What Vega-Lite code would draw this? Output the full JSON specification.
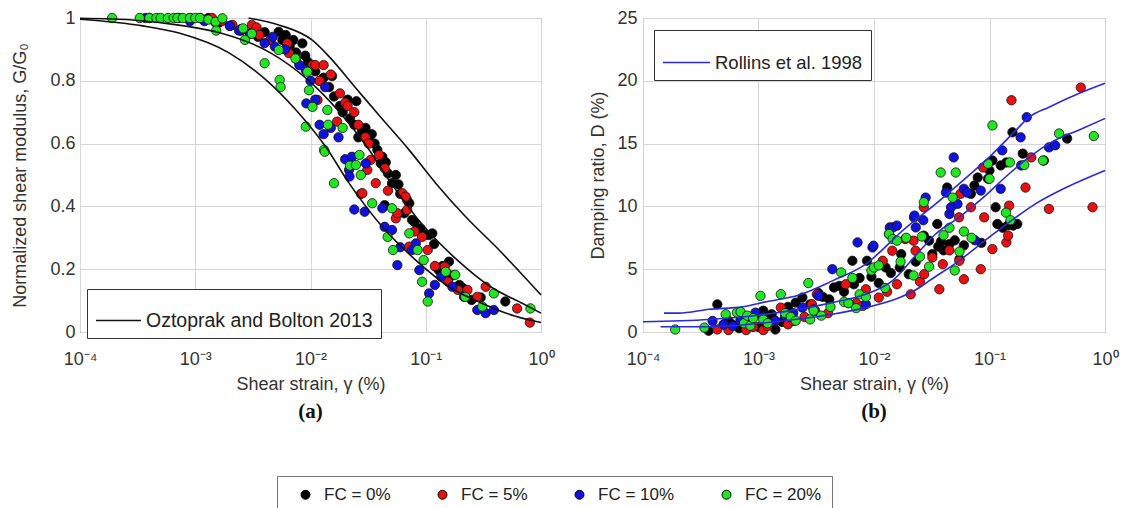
{
  "$schema": "https://vega.github.io/schema/vega-lite/v6.json",
  "background": "white",
  "padding": {"left": 11, "top": 8, "right": 5, "bottom": 0},
  "config": {
    "font": "Liberation Sans",
    "view": {"stroke": "#555", "strokeWidth": 1},
    "axis": {"domain": false, "ticks": false, "labelFont": "Liberation Sans", "labelFontSize": 18, "labelColor": "#333", "titleFont": "Liberation Sans", "titleFontSize": 18, "titleFontWeight": "normal", "titleColor": "#333", "gridWidth": 1, "labelBound": false, "labelFlush": false},
    "legend": {"labelFont": "Liberation Sans", "labelFontSize": 17, "labelColor": "#222", "labelLimit": 500}
  },
  "datasets": {
    "gpts": [
      {"strain":0.0011,"G":1.0,"FC":"0%"},{"strain":0.0012,"G":0.995,"FC":"0%"},{"strain":0.0013,"G":1.0,"FC":"0%"},{"strain":0.0016,"G":0.985,"FC":"0%"},{"strain":0.002,"G":0.975,"FC":"0%"},{"strain":0.0025,"G":0.96,"FC":"0%"},{"strain":0.003,"G":0.95,"FC":"0%"},{"strain":0.0035,"G":0.94,"FC":"0%"},{"strain":0.004,"G":0.955,"FC":"0%"},{"strain":0.0045,"G":0.93,"FC":"0%"},{"strain":0.0053,"G":0.956,"FC":"0%"},{"strain":0.0057,"G":0.93,"FC":"0%"},{"strain":0.0061,"G":0.946,"FC":"0%"},{"strain":0.0066,"G":0.91,"FC":"0%"},{"strain":0.0071,"G":0.93,"FC":"0%"},{"strain":0.0075,"G":0.89,"FC":"0%"},{"strain":0.0085,"G":0.919,"FC":"0%"},{"strain":0.009,"G":0.88,"FC":"0%"},{"strain":0.0095,"G":0.86,"FC":"0%"},{"strain":0.011,"G":0.83,"FC":"0%"},{"strain":0.012,"G":0.8,"FC":"0%"},{"strain":0.013,"G":0.81,"FC":"0%"},{"strain":0.0145,"G":0.78,"FC":"0%"},{"strain":0.0154,"G":0.815,"FC":"0%"},{"strain":0.016,"G":0.75,"FC":"0%"},{"strain":0.018,"G":0.72,"FC":"0%"},{"strain":0.019,"G":0.7,"FC":"0%"},{"strain":0.021,"G":0.74,"FC":"0%"},{"strain":0.022,"G":0.68,"FC":"0%"},{"strain":0.024,"G":0.66,"FC":"0%"},{"strain":0.025,"G":0.735,"FC":"0%"},{"strain":0.026,"G":0.62,"FC":"0%"},{"strain":0.028,"G":0.64,"FC":"0%"},{"strain":0.03,"G":0.65,"FC":"0%"},{"strain":0.032,"G":0.61,"FC":"0%"},{"strain":0.034,"G":0.63,"FC":"0%"},{"strain":0.036,"G":0.6,"FC":"0%"},{"strain":0.038,"G":0.58,"FC":"0%"},{"strain":0.0407,"G":0.537,"FC":"0%"},{"strain":0.042,"G":0.558,"FC":"0%"},{"strain":0.044,"G":0.404,"FC":"0%"},{"strain":0.045,"G":0.54,"FC":"0%"},{"strain":0.047,"G":0.505,"FC":"0%"},{"strain":0.051,"G":0.474,"FC":"0%"},{"strain":0.055,"G":0.5,"FC":"0%"},{"strain":0.058,"G":0.47,"FC":"0%"},{"strain":0.06,"G":0.44,"FC":"0%"},{"strain":0.065,"G":0.378,"FC":"0%"},{"strain":0.069,"G":0.42,"FC":"0%"},{"strain":0.072,"G":0.41,"FC":"0%"},{"strain":0.076,"G":0.357,"FC":"0%"},{"strain":0.08,"G":0.35,"FC":"0%"},{"strain":0.086,"G":0.325,"FC":"0%"},{"strain":0.09,"G":0.33,"FC":"0%"},{"strain":0.1,"G":0.31,"FC":"0%"},{"strain":0.107,"G":0.309,"FC":"0%"},{"strain":0.114,"G":0.314,"FC":"0%"},{"strain":0.118,"G":0.28,"FC":"0%"},{"strain":0.122,"G":0.208,"FC":"0%"},{"strain":0.13,"G":0.197,"FC":"0%"},{"strain":0.14,"G":0.21,"FC":"0%"},{"strain":0.15,"G":0.19,"FC":"0%"},{"strain":0.159,"G":0.224,"FC":"0%"},{"strain":0.17,"G":0.18,"FC":"0%"},{"strain":0.196,"G":0.15,"FC":"0%"},{"strain":0.21,"G":0.14,"FC":"0%"},{"strain":0.25,"G":0.102,"FC":"0%"},{"strain":0.3,"G":0.11,"FC":"0%"},{"strain":0.49,"G":0.097,"FC":"0%"},
      {"strain":0.0009,"G":1.0,"FC":"5%"},{"strain":0.0014,"G":1.0,"FC":"5%"},{"strain":0.0017,"G":0.99,"FC":"5%"},{"strain":0.0021,"G":0.978,"FC":"5%"},{"strain":0.0025,"G":0.965,"FC":"5%"},{"strain":0.0031,"G":0.978,"FC":"5%"},{"strain":0.0034,"G":0.97,"FC":"5%"},{"strain":0.0036,"G":0.946,"FC":"5%"},{"strain":0.0045,"G":0.93,"FC":"5%"},{"strain":0.0063,"G":0.919,"FC":"5%"},{"strain":0.0065,"G":0.888,"FC":"5%"},{"strain":0.0075,"G":0.87,"FC":"5%"},{"strain":0.0104,"G":0.85,"FC":"5%"},{"strain":0.011,"G":0.85,"FC":"5%"},{"strain":0.0115,"G":0.739,"FC":"5%"},{"strain":0.012,"G":0.8,"FC":"5%"},{"strain":0.013,"G":0.85,"FC":"5%"},{"strain":0.015,"G":0.82,"FC":"5%"},{"strain":0.017,"G":0.67,"FC":"5%"},{"strain":0.018,"G":0.76,"FC":"5%"},{"strain":0.02,"G":0.73,"FC":"5%"},{"strain":0.021,"G":0.72,"FC":"5%"},{"strain":0.024,"G":0.7,"FC":"5%"},{"strain":0.026,"G":0.66,"FC":"5%"},{"strain":0.0274,"G":0.44,"FC":"5%"},{"strain":0.0282,"G":0.442,"FC":"5%"},{"strain":0.03,"G":0.62,"FC":"5%"},{"strain":0.0311,"G":0.516,"FC":"5%"},{"strain":0.032,"G":0.6,"FC":"5%"},{"strain":0.0333,"G":0.548,"FC":"5%"},{"strain":0.0368,"G":0.474,"FC":"5%"},{"strain":0.0394,"G":0.564,"FC":"5%"},{"strain":0.044,"G":0.521,"FC":"5%"},{"strain":0.047,"G":0.45,"FC":"5%"},{"strain":0.055,"G":0.362,"FC":"5%"},{"strain":0.0567,"G":0.378,"FC":"5%"},{"strain":0.0627,"G":0.442,"FC":"5%"},{"strain":0.0669,"G":0.431,"FC":"5%"},{"strain":0.069,"G":0.389,"FC":"5%"},{"strain":0.072,"G":0.272,"FC":"5%"},{"strain":0.08,"G":0.32,"FC":"5%"},{"strain":0.093,"G":0.303,"FC":"5%"},{"strain":0.104,"G":0.261,"FC":"5%"},{"strain":0.12,"G":0.21,"FC":"5%"},{"strain":0.146,"G":0.208,"FC":"5%"},{"strain":0.156,"G":0.16,"FC":"5%"},{"strain":0.19,"G":0.134,"FC":"5%"},{"strain":0.23,"G":0.134,"FC":"5%"},{"strain":0.28,"G":0.112,"FC":"5%"},{"strain":0.331,"G":0.144,"FC":"5%"},{"strain":0.62,"G":0.075,"FC":"5%"},{"strain":0.8,"G":0.03,"FC":"5%"},
      {"strain":0.00037,"G":1.0,"FC":"10%"},{"strain":0.0004,"G":1.0,"FC":"10%"},{"strain":0.00072,"G":1.0,"FC":"10%"},{"strain":0.0009,"G":0.99,"FC":"10%"},{"strain":0.0012,"G":0.99,"FC":"10%"},{"strain":0.0015,"G":0.985,"FC":"10%"},{"strain":0.002,"G":0.975,"FC":"10%"},{"strain":0.0024,"G":0.96,"FC":"10%"},{"strain":0.003,"G":0.95,"FC":"10%"},{"strain":0.004,"G":0.92,"FC":"10%"},{"strain":0.0047,"G":0.94,"FC":"10%"},{"strain":0.0049,"G":0.909,"FC":"10%"},{"strain":0.006,"G":0.9,"FC":"10%"},{"strain":0.008,"G":0.85,"FC":"10%"},{"strain":0.0091,"G":0.834,"FC":"10%"},{"strain":0.0092,"G":0.728,"FC":"10%"},{"strain":0.01,"G":0.8,"FC":"10%"},{"strain":0.011,"G":0.74,"FC":"10%"},{"strain":0.012,"G":0.66,"FC":"10%"},{"strain":0.013,"G":0.63,"FC":"10%"},{"strain":0.0134,"G":0.78,"FC":"10%"},{"strain":0.015,"G":0.65,"FC":"10%"},{"strain":0.0175,"G":0.62,"FC":"10%"},{"strain":0.02,"G":0.55,"FC":"10%"},{"strain":0.0216,"G":0.516,"FC":"10%"},{"strain":0.0218,"G":0.495,"FC":"10%"},{"strain":0.0229,"G":0.558,"FC":"10%"},{"strain":0.024,"G":0.39,"FC":"10%"},{"strain":0.0295,"G":0.383,"FC":"10%"},{"strain":0.0302,"G":0.537,"FC":"10%"},{"strain":0.042,"G":0.394,"FC":"10%"},{"strain":0.044,"G":0.335,"FC":"10%"},{"strain":0.051,"G":0.325,"FC":"10%"},{"strain":0.0567,"G":0.213,"FC":"10%"},{"strain":0.06,"G":0.27,"FC":"10%"},{"strain":0.076,"G":0.261,"FC":"10%"},{"strain":0.082,"G":0.282,"FC":"10%"},{"strain":0.088,"G":0.197,"FC":"10%"},{"strain":0.107,"G":0.123,"FC":"10%"},{"strain":0.12,"G":0.15,"FC":"10%"},{"strain":0.136,"G":0.176,"FC":"10%"},{"strain":0.17,"G":0.144,"FC":"10%"},{"strain":0.215,"G":0.112,"FC":"10%"},{"strain":0.28,"G":0.07,"FC":"10%"},{"strain":0.331,"G":0.06,"FC":"10%"},{"strain":0.39,"G":0.07,"FC":"10%"},
      {"strain":0.00019,"G":1.0,"FC":"20%"},{"strain":0.00033,"G":1.0,"FC":"20%"},{"strain":0.0004,"G":1.0,"FC":"20%"},{"strain":0.00046,"G":1.0,"FC":"20%"},{"strain":0.0005,"G":1.0,"FC":"20%"},{"strain":0.00058,"G":1.0,"FC":"20%"},{"strain":0.00065,"G":1.0,"FC":"20%"},{"strain":0.0007,"G":1.0,"FC":"20%"},{"strain":0.00078,"G":1.0,"FC":"20%"},{"strain":0.0009,"G":1.0,"FC":"20%"},{"strain":0.001,"G":1.0,"FC":"20%"},{"strain":0.0011,"G":1.0,"FC":"20%"},{"strain":0.0013,"G":0.995,"FC":"20%"},{"strain":0.0015,"G":0.988,"FC":"20%"},{"strain":0.00152,"G":0.96,"FC":"20%"},{"strain":0.00172,"G":0.999,"FC":"20%"},{"strain":0.0026,"G":0.967,"FC":"20%"},{"strain":0.0027,"G":0.93,"FC":"20%"},{"strain":0.0031,"G":0.95,"FC":"20%"},{"strain":0.004,"G":0.856,"FC":"20%"},{"strain":0.0053,"G":0.898,"FC":"20%"},{"strain":0.0054,"G":0.803,"FC":"20%"},{"strain":0.0055,"G":0.78,"FC":"20%"},{"strain":0.0074,"G":0.871,"FC":"20%"},{"strain":0.0091,"G":0.654,"FC":"20%"},{"strain":0.0094,"G":0.829,"FC":"20%"},{"strain":0.0097,"G":0.77,"FC":"20%"},{"strain":0.0104,"G":0.717,"FC":"20%"},{"strain":0.0131,"G":0.58,"FC":"20%"},{"strain":0.0133,"G":0.574,"FC":"20%"},{"strain":0.014,"G":0.707,"FC":"20%"},{"strain":0.0142,"G":0.66,"FC":"20%"},{"strain":0.016,"G":0.474,"FC":"20%"},{"strain":0.019,"G":0.65,"FC":"20%"},{"strain":0.022,"G":0.53,"FC":"20%"},{"strain":0.0248,"G":0.532,"FC":"20%"},{"strain":0.0266,"G":0.564,"FC":"20%"},{"strain":0.0273,"G":0.5,"FC":"20%"},{"strain":0.0343,"G":0.41,"FC":"20%"},{"strain":0.0467,"G":0.303,"FC":"20%"},{"strain":0.051,"G":0.394,"FC":"20%"},{"strain":0.052,"G":0.261,"FC":"20%"},{"strain":0.072,"G":0.314,"FC":"20%"},{"strain":0.085,"G":0.261,"FC":"20%"},{"strain":0.093,"G":0.16,"FC":"20%"},{"strain":0.096,"G":0.229,"FC":"20%"},{"strain":0.104,"G":0.097,"FC":"20%"},{"strain":0.149,"G":0.192,"FC":"20%"},{"strain":0.18,"G":0.182,"FC":"20%"},{"strain":0.22,"G":0.112,"FC":"20%"},{"strain":0.31,"G":0.081,"FC":"20%"},{"strain":0.39,"G":0.123,"FC":"20%"},{"strain":0.81,"G":0.075,"FC":"20%"}
    ],
    "dpts": [
      {"strain":0.00037,"D":0.1,"FC":"0%"},{"strain":0.00044,"D":2.2,"FC":"0%"},{"strain":0.0005,"D":0.6,"FC":"0%"},{"strain":0.00055,"D":0.9,"FC":"0%"},{"strain":0.00059,"D":0.61,"FC":"0%"},{"strain":0.00068,"D":0.3,"FC":"0%"},{"strain":0.0007,"D":1.0,"FC":"0%"},{"strain":0.00085,"D":0.61,"FC":"0%"},{"strain":0.00091,"D":1.28,"FC":"0%"},{"strain":0.001,"D":0.4,"FC":"0%"},{"strain":0.0011,"D":1.7,"FC":"0%"},{"strain":0.0012,"D":1.0,"FC":"0%"},{"strain":0.0013,"D":1.41,"FC":"0%"},{"strain":0.0014,"D":0.2,"FC":"0%"},{"strain":0.0016,"D":0.8,"FC":"0%"},{"strain":0.0018,"D":2.0,"FC":"0%"},{"strain":0.0021,"D":2.34,"FC":"0%"},{"strain":0.0024,"D":2.74,"FC":"0%"},{"strain":0.0028,"D":2.2,"FC":"0%"},{"strain":0.0033,"D":3.1,"FC":"0%"},{"strain":0.0036,"D":2.8,"FC":"0%"},{"strain":0.0041,"D":2.6,"FC":"0%"},{"strain":0.0045,"D":3.54,"FC":"0%"},{"strain":0.005,"D":3.67,"FC":"0%"},{"strain":0.0055,"D":3.2,"FC":"0%"},{"strain":0.0065,"D":5.67,"FC":"0%"},{"strain":0.0067,"D":3.8,"FC":"0%"},{"strain":0.0075,"D":4.3,"FC":"0%"},{"strain":0.0087,"D":5.67,"FC":"0%"},{"strain":0.0095,"D":4.4,"FC":"0%"},{"strain":0.011,"D":3.9,"FC":"0%"},{"strain":0.0126,"D":5.14,"FC":"0%"},{"strain":0.014,"D":4.7,"FC":"0%"},{"strain":0.0167,"D":5.14,"FC":"0%"},{"strain":0.0172,"D":6.2,"FC":"0%"},{"strain":0.02,"D":4.6,"FC":"0%"},{"strain":0.023,"D":5.6,"FC":"0%"},{"strain":0.027,"D":7.67,"FC":"0%"},{"strain":0.03,"D":7.27,"FC":"0%"},{"strain":0.032,"D":6.2,"FC":"0%"},{"strain":0.0353,"D":8.6,"FC":"0%"},{"strain":0.036,"D":6.8,"FC":"0%"},{"strain":0.038,"D":7.2,"FC":"0%"},{"strain":0.04,"D":6.5,"FC":"0%"},{"strain":0.043,"D":11.5,"FC":"0%"},{"strain":0.045,"D":7.0,"FC":"0%"},{"strain":0.05,"D":7.3,"FC":"0%"},{"strain":0.055,"D":5.8,"FC":"0%"},{"strain":0.06,"D":6.9,"FC":"0%"},{"strain":0.069,"D":11.0,"FC":"0%"},{"strain":0.074,"D":11.66,"FC":"0%"},{"strain":0.079,"D":12.3,"FC":"0%"},{"strain":0.085,"D":7.1,"FC":"0%"},{"strain":0.097,"D":12.2,"FC":"0%"},{"strain":0.1,"D":12.86,"FC":"0%"},{"strain":0.106,"D":13.65,"FC":"0%"},{"strain":0.113,"D":9.93,"FC":"0%"},{"strain":0.117,"D":8.6,"FC":"0%"},{"strain":0.125,"D":13.26,"FC":"0%"},{"strain":0.13,"D":8.3,"FC":"0%"},{"strain":0.14,"D":13.5,"FC":"0%"},{"strain":0.145,"D":8.5,"FC":"0%"},{"strain":0.158,"D":15.9,"FC":"0%"},{"strain":0.16,"D":8.47,"FC":"0%"},{"strain":0.174,"D":8.6,"FC":"0%"},{"strain":0.194,"D":14.2,"FC":"0%"},{"strain":0.296,"D":13.65,"FC":"0%"},{"strain":0.47,"D":15.4,"FC":"0%"},
      {"strain":0.00044,"D":0.2,"FC":"5%"},{"strain":0.00055,"D":0.15,"FC":"5%"},{"strain":0.00078,"D":0.15,"FC":"5%"},{"strain":0.0009,"D":0.4,"FC":"5%"},{"strain":0.0011,"D":0.15,"FC":"5%"},{"strain":0.00115,"D":0.88,"FC":"5%"},{"strain":0.0012,"D":0.48,"FC":"5%"},{"strain":0.00156,"D":1.94,"FC":"5%"},{"strain":0.0018,"D":0.61,"FC":"5%"},{"strain":0.002,"D":0.88,"FC":"5%"},{"strain":0.0025,"D":1.2,"FC":"5%"},{"strain":0.0029,"D":2.21,"FC":"5%"},{"strain":0.0031,"D":1.68,"FC":"5%"},{"strain":0.0032,"D":3.0,"FC":"5%"},{"strain":0.004,"D":1.5,"FC":"5%"},{"strain":0.0057,"D":3.8,"FC":"5%"},{"strain":0.007,"D":2.3,"FC":"5%"},{"strain":0.008,"D":2.08,"FC":"5%"},{"strain":0.0085,"D":3.4,"FC":"5%"},{"strain":0.011,"D":2.74,"FC":"5%"},{"strain":0.0119,"D":5.67,"FC":"5%"},{"strain":0.013,"D":3.2,"FC":"5%"},{"strain":0.0144,"D":6.47,"FC":"5%"},{"strain":0.0158,"D":3.8,"FC":"5%"},{"strain":0.0186,"D":7.4,"FC":"5%"},{"strain":0.0208,"D":3.0,"FC":"5%"},{"strain":0.022,"D":7.27,"FC":"5%"},{"strain":0.0229,"D":6.47,"FC":"5%"},{"strain":0.025,"D":4.0,"FC":"5%"},{"strain":0.027,"D":9.93,"FC":"5%"},{"strain":0.0272,"D":4.6,"FC":"5%"},{"strain":0.032,"D":5.93,"FC":"5%"},{"strain":0.0368,"D":3.4,"FC":"5%"},{"strain":0.0394,"D":5.4,"FC":"5%"},{"strain":0.045,"D":6.5,"FC":"5%"},{"strain":0.0545,"D":9.13,"FC":"5%"},{"strain":0.0548,"D":5.67,"FC":"5%"},{"strain":0.056,"D":11.0,"FC":"5%"},{"strain":0.06,"D":4.2,"FC":"5%"},{"strain":0.069,"D":9.93,"FC":"5%"},{"strain":0.084,"D":5.0,"FC":"5%"},{"strain":0.088,"D":13.1,"FC":"5%"},{"strain":0.09,"D":9.13,"FC":"5%"},{"strain":0.106,"D":6.6,"FC":"5%"},{"strain":0.14,"D":7.13,"FC":"5%"},{"strain":0.145,"D":7.67,"FC":"5%"},{"strain":0.148,"D":10.06,"FC":"5%"},{"strain":0.155,"D":18.45,"FC":"5%"},{"strain":0.205,"D":11.5,"FC":"5%"},{"strain":0.23,"D":13.9,"FC":"5%"},{"strain":0.327,"D":9.8,"FC":"5%"},{"strain":0.617,"D":19.46,"FC":"5%"},{"strain":0.78,"D":9.93,"FC":"5%"},
      {"strain":0.0004,"D":0.88,"FC":"10%"},{"strain":0.0005,"D":0.6,"FC":"10%"},{"strain":0.0006,"D":0.48,"FC":"10%"},{"strain":0.0007,"D":0.9,"FC":"10%"},{"strain":0.00094,"D":1.54,"FC":"10%"},{"strain":0.0011,"D":1.2,"FC":"10%"},{"strain":0.0014,"D":0.9,"FC":"10%"},{"strain":0.0017,"D":1.28,"FC":"10%"},{"strain":0.002,"D":1.5,"FC":"10%"},{"strain":0.0024,"D":1.94,"FC":"10%"},{"strain":0.003,"D":1.8,"FC":"10%"},{"strain":0.0033,"D":2.88,"FC":"10%"},{"strain":0.00436,"D":5.0,"FC":"10%"},{"strain":0.006,"D":2.3,"FC":"10%"},{"strain":0.0072,"D":7.13,"FC":"10%"},{"strain":0.0085,"D":2.21,"FC":"10%"},{"strain":0.0097,"D":6.73,"FC":"10%"},{"strain":0.0099,"D":6.87,"FC":"10%"},{"strain":0.0135,"D":7.8,"FC":"10%"},{"strain":0.0137,"D":8.33,"FC":"10%"},{"strain":0.0146,"D":8.33,"FC":"10%"},{"strain":0.0158,"D":8.47,"FC":"10%"},{"strain":0.0222,"D":9.13,"FC":"10%"},{"strain":0.0224,"D":9.27,"FC":"10%"},{"strain":0.023,"D":8.33,"FC":"10%"},{"strain":0.0267,"D":8.9,"FC":"10%"},{"strain":0.028,"D":10.7,"FC":"10%"},{"strain":0.042,"D":11.1,"FC":"10%"},{"strain":0.045,"D":9.4,"FC":"10%"},{"strain":0.0464,"D":9.93,"FC":"10%"},{"strain":0.049,"D":13.9,"FC":"10%"},{"strain":0.0528,"D":10.2,"FC":"10%"},{"strain":0.06,"D":11.4,"FC":"10%"},{"strain":0.064,"D":11.1,"FC":"10%"},{"strain":0.075,"D":7.3,"FC":"10%"},{"strain":0.084,"D":11.26,"FC":"10%"},{"strain":0.125,"D":11.4,"FC":"10%"},{"strain":0.129,"D":14.46,"FC":"10%"},{"strain":0.186,"D":15.5,"FC":"10%"},{"strain":0.188,"D":13.26,"FC":"10%"},{"strain":0.21,"D":17.1,"FC":"10%"},{"strain":0.327,"D":14.7,"FC":"10%"},{"strain":0.37,"D":14.86,"FC":"10%"},
      {"strain":0.00019,"D":0.2,"FC":"20%"},{"strain":0.00034,"D":0.35,"FC":"20%"},{"strain":0.00052,"D":1.41,"FC":"20%"},{"strain":0.00065,"D":1.54,"FC":"20%"},{"strain":0.0007,"D":1.6,"FC":"20%"},{"strain":0.00075,"D":0.7,"FC":"20%"},{"strain":0.0008,"D":1.3,"FC":"20%"},{"strain":0.00085,"D":0.5,"FC":"20%"},{"strain":0.0009,"D":1.1,"FC":"20%"},{"strain":0.00104,"D":2.88,"FC":"20%"},{"strain":0.0011,"D":1.0,"FC":"20%"},{"strain":0.0012,"D":0.7,"FC":"20%"},{"strain":0.00156,"D":3.01,"FC":"20%"},{"strain":0.0017,"D":1.5,"FC":"20%"},{"strain":0.0019,"D":1.2,"FC":"20%"},{"strain":0.0021,"D":0.9,"FC":"20%"},{"strain":0.0027,"D":3.9,"FC":"20%"},{"strain":0.0028,"D":1.0,"FC":"20%"},{"strain":0.003,"D":1.7,"FC":"20%"},{"strain":0.0035,"D":1.3,"FC":"20%"},{"strain":0.0042,"D":2.0,"FC":"20%"},{"strain":0.0052,"D":4.74,"FC":"20%"},{"strain":0.0055,"D":2.4,"FC":"20%"},{"strain":0.006,"D":2.3,"FC":"20%"},{"strain":0.0065,"D":4.3,"FC":"20%"},{"strain":0.007,"D":1.9,"FC":"20%"},{"strain":0.0075,"D":3.0,"FC":"20%"},{"strain":0.0085,"D":2.8,"FC":"20%"},{"strain":0.0095,"D":4.9,"FC":"20%"},{"strain":0.01,"D":5.14,"FC":"20%"},{"strain":0.011,"D":5.3,"FC":"20%"},{"strain":0.0125,"D":3.5,"FC":"20%"},{"strain":0.0135,"D":7.8,"FC":"20%"},{"strain":0.0145,"D":7.4,"FC":"20%"},{"strain":0.0158,"D":7.27,"FC":"20%"},{"strain":0.017,"D":5.6,"FC":"20%"},{"strain":0.019,"D":7.5,"FC":"20%"},{"strain":0.022,"D":4.5,"FC":"20%"},{"strain":0.025,"D":6.0,"FC":"20%"},{"strain":0.026,"D":7.6,"FC":"20%"},{"strain":0.027,"D":10.33,"FC":"20%"},{"strain":0.03,"D":5.2,"FC":"20%"},{"strain":0.0378,"D":12.7,"FC":"20%"},{"strain":0.04,"D":7.7,"FC":"20%"},{"strain":0.045,"D":8.3,"FC":"20%"},{"strain":0.048,"D":10.7,"FC":"20%"},{"strain":0.051,"D":12.7,"FC":"20%"},{"strain":0.05,"D":4.9,"FC":"20%"},{"strain":0.055,"D":6.4,"FC":"20%"},{"strain":0.06,"D":8.0,"FC":"20%"},{"strain":0.07,"D":7.5,"FC":"20%"},{"strain":0.097,"D":13.4,"FC":"20%"},{"strain":0.1,"D":12.2,"FC":"20%"},{"strain":0.106,"D":16.45,"FC":"20%"},{"strain":0.139,"D":9.5,"FC":"20%"},{"strain":0.15,"D":13.5,"FC":"20%"},{"strain":0.152,"D":8.9,"FC":"20%"},{"strain":0.2,"D":13.3,"FC":"20%"},{"strain":0.29,"D":13.65,"FC":"20%"},{"strain":0.4,"D":15.8,"FC":"20%"},{"strain":0.8,"D":15.6,"FC":"20%"}
    ],
    "ob": [
      {"strain":0.0001,"G":0.996,"curve":"L","model":"Oztoprak and Bolton 2013"},{"strain":0.00035,"G":0.975,"curve":"L","model":"Oztoprak and Bolton 2013"},{"strain":0.000723,"G":0.952,"curve":"L","model":"Oztoprak and Bolton 2013"},{"strain":0.00196,"G":0.889,"curve":"L","model":"Oztoprak and Bolton 2013"},{"strain":0.00411,"G":0.803,"curve":"L","model":"Oztoprak and Bolton 2013"},{"strain":0.00748,"G":0.707,"curve":"L","model":"Oztoprak and Bolton 2013"},{"strain":0.0136,"G":0.589,"curve":"L","model":"Oztoprak and Bolton 2013"},{"strain":0.0216,"G":0.474,"curve":"L","model":"Oztoprak and Bolton 2013"},{"strain":0.042,"G":0.335,"curve":"L","model":"Oztoprak and Bolton 2013"},{"strain":0.0818,"G":0.229,"curve":"L","model":"Oztoprak and Bolton 2013"},{"strain":0.159,"G":0.144,"curve":"L","model":"Oztoprak and Bolton 2013"},{"strain":0.31,"G":0.091,"curve":"L","model":"Oztoprak and Bolton 2013"},{"strain":0.6,"G":0.05,"curve":"L","model":"Oztoprak and Bolton 2013"},{"strain":1.0,"G":0.03,"curve":"L","model":"Oztoprak and Bolton 2013"},
      {"strain":0.0001,"G":0.999,"curve":"M","model":"Oztoprak and Bolton 2013"},{"strain":0.0003,"G":0.993,"curve":"M","model":"Oztoprak and Bolton 2013"},{"strain":0.0008,"G":0.975,"curve":"M","model":"Oztoprak and Bolton 2013"},{"strain":0.00166,"G":0.952,"curve":"M","model":"Oztoprak and Bolton 2013"},{"strain":0.0045,"G":0.889,"curve":"M","model":"Oztoprak and Bolton 2013"},{"strain":0.0095,"G":0.803,"curve":"M","model":"Oztoprak and Bolton 2013"},{"strain":0.0172,"G":0.707,"curve":"M","model":"Oztoprak and Bolton 2013"},{"strain":0.031,"G":0.589,"curve":"M","model":"Oztoprak and Bolton 2013"},{"strain":0.05,"G":0.474,"curve":"M","model":"Oztoprak and Bolton 2013"},{"strain":0.097,"G":0.335,"curve":"M","model":"Oztoprak and Bolton 2013"},{"strain":0.188,"G":0.229,"curve":"M","model":"Oztoprak and Bolton 2013"},{"strain":0.366,"G":0.144,"curve":"M","model":"Oztoprak and Bolton 2013"},{"strain":0.7,"G":0.09,"curve":"M","model":"Oztoprak and Bolton 2013"},{"strain":1.0,"G":0.06,"curve":"M","model":"Oztoprak and Bolton 2013"},
      {"strain":0.0029,"G":1.0,"curve":"U","model":"Oztoprak and Bolton 2013"},{"strain":0.0053,"G":0.978,"curve":"U","model":"Oztoprak and Bolton 2013"},{"strain":0.0103,"G":0.93,"curve":"U","model":"Oztoprak and Bolton 2013"},{"strain":0.0145,"G":0.877,"curve":"U","model":"Oztoprak and Bolton 2013"},{"strain":0.025,"G":0.775,"curve":"U","model":"Oztoprak and Bolton 2013"},{"strain":0.04,"G":0.687,"curve":"U","model":"Oztoprak and Bolton 2013"},{"strain":0.0716,"G":0.58,"curve":"U","model":"Oztoprak and Bolton 2013"},{"strain":0.122,"G":0.474,"curve":"U","model":"Oztoprak and Bolton 2013"},{"strain":0.222,"G":0.367,"curve":"U","model":"Oztoprak and Bolton 2013"},{"strain":0.433,"G":0.261,"curve":"U","model":"Oztoprak and Bolton 2013"},{"strain":1.0,"G":0.118,"curve":"U","model":"Oztoprak and Bolton 2013"}
    ],
    "ro": [
      {"strain":0.000152,"D":1.5,"curve":"U","model":"Rollins et al. 1998"},{"strain":0.000205,"D":1.5,"curve":"U","model":"Rollins et al. 1998"},{"strain":0.000373,"D":1.81,"curve":"U","model":"Rollins et al. 1998"},{"strain":0.000724,"D":2.0,"curve":"U","model":"Rollins et al. 1998"},{"strain":0.00115,"D":2.4,"curve":"U","model":"Rollins et al. 1998"},{"strain":0.00224,"D":2.95,"curve":"U","model":"Rollins et al. 1998"},{"strain":0.00436,"D":4.07,"curve":"U","model":"Rollins et al. 1998"},{"strain":0.00847,"D":5.4,"curve":"U","model":"Rollins et al. 1998"},{"strain":0.0144,"D":7.3,"curve":"U","model":"Rollins et al. 1998"},{"strain":0.0164,"D":7.8,"curve":"U","model":"Rollins et al. 1998"},{"strain":0.0342,"D":10.2,"curve":"U","model":"Rollins et al. 1998"},{"strain":0.0545,"D":11.8,"curve":"U","model":"Rollins et al. 1998"},{"strain":0.099,"D":13.9,"curve":"U","model":"Rollins et al. 1998"},{"strain":0.169,"D":16.05,"curve":"U","model":"Rollins et al. 1998"},{"strain":0.22,"D":17.1,"curve":"U","model":"Rollins et al. 1998"},{"strain":0.327,"D":17.9,"curve":"U","model":"Rollins et al. 1998"},{"strain":0.637,"D":19.1,"curve":"U","model":"Rollins et al. 1998"},{"strain":1.0,"D":19.8,"curve":"U","model":"Rollins et al. 1998"},
      {"strain":0.0001,"D":0.82,"curve":"M","model":"Rollins et al. 1998"},{"strain":0.000373,"D":1.0,"curve":"M","model":"Rollins et al. 1998"},{"strain":0.00115,"D":1.41,"curve":"M","model":"Rollins et al. 1998"},{"strain":0.00436,"D":2.34,"curve":"M","model":"Rollins et al. 1998"},{"strain":0.00847,"D":3.0,"curve":"M","model":"Rollins et al. 1998"},{"strain":0.0144,"D":4.07,"curve":"M","model":"Rollins et al. 1998"},{"strain":0.024,"D":6.3,"curve":"M","model":"Rollins et al. 1998"},{"strain":0.0342,"D":7.8,"curve":"M","model":"Rollins et al. 1998"},{"strain":0.0545,"D":9.13,"curve":"M","model":"Rollins et al. 1998"},{"strain":0.088,"D":10.7,"curve":"M","model":"Rollins et al. 1998"},{"strain":0.148,"D":12.6,"curve":"M","model":"Rollins et al. 1998"},{"strain":0.22,"D":13.9,"curve":"M","model":"Rollins et al. 1998"},{"strain":0.327,"D":15.0,"curve":"M","model":"Rollins et al. 1998"},{"strain":0.637,"D":16.2,"curve":"M","model":"Rollins et al. 1998"},{"strain":1.0,"D":17.0,"curve":"M","model":"Rollins et al. 1998"},
      {"strain":0.000142,"D":0.42,"curve":"L","model":"Rollins et al. 1998"},{"strain":0.000373,"D":0.42,"curve":"L","model":"Rollins et al. 1998"},{"strain":0.00115,"D":0.74,"curve":"L","model":"Rollins et al. 1998"},{"strain":0.00436,"D":1.41,"curve":"L","model":"Rollins et al. 1998"},{"strain":0.00847,"D":1.94,"curve":"L","model":"Rollins et al. 1998"},{"strain":0.0167,"D":2.74,"curve":"L","model":"Rollins et al. 1998"},{"strain":0.0248,"D":3.54,"curve":"L","model":"Rollins et al. 1998"},{"strain":0.03,"D":4.07,"curve":"L","model":"Rollins et al. 1998"},{"strain":0.0545,"D":5.67,"curve":"L","model":"Rollins et al. 1998"},{"strain":0.099,"D":7.53,"curve":"L","model":"Rollins et al. 1998"},{"strain":0.169,"D":9.13,"curve":"L","model":"Rollins et al. 1998"},{"strain":0.25,"D":10.2,"curve":"L","model":"Rollins et al. 1998"},{"strain":0.46,"D":11.5,"curve":"L","model":"Rollins et al. 1998"},{"strain":1.0,"D":12.86,"curve":"L","model":"Rollins et al. 1998"}
    ]
  },
  "hconcat": [
    {
      "width": 461, "height": 314,
      "title": {"text": "(a)", "orient": "bottom", "anchor": "middle", "font": "Liberation Serif", "fontSize": 21, "fontWeight": "bold", "color": "#111", "offset": 8},
      "resolve": {"axis": {"x": "independent", "y": "independent"}},
      "layer": [
        {
          "data": {"name": "gpts"},
          "mark": {"type": "circle", "size": 88, "stroke": "#111", "strokeWidth": 0.8, "opacity": 1},
          "encoding": {
            "x": {"field": "strain", "type": "quantitative", "title": "Shear strain, γ (%)",
              "scale": {"type": "log", "domain": [0.0001, 1], "nice": false},
              "axis": {"orient": "bottom", "values": [0.0001, 0.001, 0.01, 0.1, 1],
                "labelExpr": "datum.value == 0.0001 ? '10⁻⁴' : datum.value == 0.001 ? '10⁻³' : datum.value == 0.01 ? '10⁻²' : datum.value == 0.1 ? '10⁻¹' : '10⁰'",
                "gridColor": "#d6d6d6", "labelOverlap": false, "labelPadding": 18, "titlePadding": 7}},
            "y": {"field": "G", "type": "quantitative", "title": "Normalized shear modulus, G/G₀",
              "scale": {"domain": [0, 1], "nice": false},
              "axis": {"orient": "left", "values": [0, 0.2, 0.4, 0.6, 0.8, 1],
                "labelExpr": "datum.value == 0 ? '0' : datum.value == 1 ? '1' : format(datum.value, '.1f')",
                "gridColor": "#d6d6d6", "labelOverlap": false, "labelPadding": 5, "titlePadding": 20}},
            "fill": {"field": "FC", "type": "nominal",
              "scale": {"domain": ["0%", "5%", "10%", "20%"], "range": ["#000000", "#e81010", "#1010e0", "#22e622"]},
              "legend": {"orient": "none", "legendX": 197, "legendY": 458, "direction": "horizontal", "columns": 4, "title": null, "symbolType": "circle", "symbolSize": 80, "symbolStrokeColor": "#000", "symbolStrokeWidth": 1, "labelFontSize": 17, "labelOffset": 10, "columnPadding": 33, "padding": 10, "symbolOffset": 10, "strokeColor": "#777", "fillColor": "white", "labelExpr": "'FC = ' + datum.label"}}
          }
        },
        {
          "data": {"name": "ob"},
          "mark": {"type": "line", "strokeWidth": 1.6, "interpolate": "monotone"},
          "encoding": {
            "x": {"field": "strain", "type": "quantitative",
              "axis": {"orient": "top", "title": null, "labels": false, "ticks": false, "domain": false, "gridColor": "#ececec",
                "values": [0.0002,0.0003,0.0004,0.0005,0.0006,0.0007,0.0008,0.0009,0.002,0.003,0.004,0.005,0.006,0.007,0.008,0.009,0.02,0.03,0.04,0.05,0.06,0.07,0.08,0.09,0.2,0.3,0.4,0.5,0.6,0.7,0.8,0.9]}},
            "y": {"field": "G", "type": "quantitative",
              "axis": {"orient": "right", "title": null, "labels": false, "ticks": false, "domain": false, "gridColor": "#ececec",
                "values": [0.05,0.1,0.15,0.25,0.3,0.35,0.45,0.5,0.55,0.65,0.7,0.75,0.85,0.9,0.95]}},
            "detail": {"field": "curve"},
            "stroke": {"field": "model", "type": "nominal", "scale": {"range": ["#111111"]},
              "legend": {"orient": "none", "legendX": 7, "legendY": 271, "title": null, "symbolType": "stroke", "symbolSize": 2025, "symbolStrokeWidth": 1.6, "labelFontSize": 19.5, "labelOffset": 4, "padding": 8, "strokeColor": "#333", "fillColor": "white", "labelLimit": 500}}
          }
        }
      ]
    },
    {
      "width": 462, "height": 314,
      "title": {"text": "(b)", "orient": "bottom", "anchor": "middle", "font": "Liberation Serif", "fontSize": 21, "fontWeight": "bold", "color": "#111", "offset": 8},
      "resolve": {"axis": {"x": "independent", "y": "independent"}},
      "layer": [
        {
          "data": {"name": "dpts"},
          "mark": {"type": "circle", "size": 88, "stroke": "#111", "strokeWidth": 0.8, "opacity": 1},
          "encoding": {
            "x": {"field": "strain", "type": "quantitative", "title": "Shear strain, γ (%)",
              "scale": {"type": "log", "domain": [0.0001, 1], "nice": false},
              "axis": {"orient": "bottom", "values": [0.0001, 0.001, 0.01, 0.1, 1],
                "labelExpr": "datum.value == 0.0001 ? '10⁻⁴' : datum.value == 0.001 ? '10⁻³' : datum.value == 0.01 ? '10⁻²' : datum.value == 0.1 ? '10⁻¹' : '10⁰'",
                "gridColor": "#d6d6d6", "labelOverlap": false, "labelPadding": 18, "titlePadding": 7}},
            "y": {"field": "D", "type": "quantitative", "title": "Damping ratio, D (%)",
              "scale": {"domain": [0, 25], "nice": false},
              "axis": {"orient": "left", "values": [0, 5, 10, 15, 20, 25], "format": "d",
                "gridColor": "#d6d6d6", "labelOverlap": false, "labelPadding": 6, "titlePadding": 9}},
            "fill": {"field": "FC", "type": "nominal",
              "scale": {"domain": ["0%", "5%", "10%", "20%"], "range": ["#000000", "#e81010", "#1010e0", "#22e622"]},
              "legend": {"orient": "none", "legendX": 197, "legendY": 458, "direction": "horizontal", "columns": 4, "title": null, "symbolType": "circle", "symbolSize": 80, "symbolStrokeColor": "#000", "symbolStrokeWidth": 1, "labelFontSize": 17, "labelOffset": 10, "columnPadding": 33, "padding": 10, "symbolOffset": 10, "strokeColor": "#777", "fillColor": "white", "labelExpr": "'FC = ' + datum.label"}}
          }
        },
        {
          "data": {"name": "ro"},
          "mark": {"type": "line", "strokeWidth": 1.6, "interpolate": "monotone"},
          "encoding": {
            "x": {"field": "strain", "type": "quantitative",
              "axis": {"orient": "top", "title": null, "labels": false, "ticks": false, "domain": false, "gridColor": "#ececec",
                "values": [0.0002,0.0003,0.0004,0.0005,0.0006,0.0007,0.0008,0.0009,0.002,0.003,0.004,0.005,0.006,0.007,0.008,0.009,0.02,0.03,0.04,0.05,0.06,0.07,0.08,0.09,0.2,0.3,0.4,0.5,0.6,0.7,0.8,0.9]}},
            "y": {"field": "D", "type": "quantitative",
              "axis": {"orient": "right", "title": null, "labels": false, "ticks": false, "domain": false, "gridColor": "#ececec",
                "values": [1,2,3,4,6,7,8,9,11,12,13,14,16,17,18,19,21,22,23,24]}},
            "detail": {"field": "curve"},
            "stroke": {"field": "model", "type": "nominal", "scale": {"range": ["#2a2ad8"]},
              "legend": {"orient": "none", "legendX": 11, "legendY": 12, "title": null, "symbolType": "stroke", "symbolSize": 2209, "symbolStrokeWidth": 1.6, "labelFontSize": 18.5, "labelOffset": 4, "padding": 8, "strokeColor": "#333", "fillColor": "white", "labelLimit": 500}}
          }
        }
      ]
    }
  ],
  "spacing": 102,
  "bounds": "flush",
  "resolve": {
    "scale": {"x": "independent", "y": "independent", "fill": "shared", "stroke": "independent"},
    "legend": {"fill": "shared", "stroke": "independent"}
  }
}
